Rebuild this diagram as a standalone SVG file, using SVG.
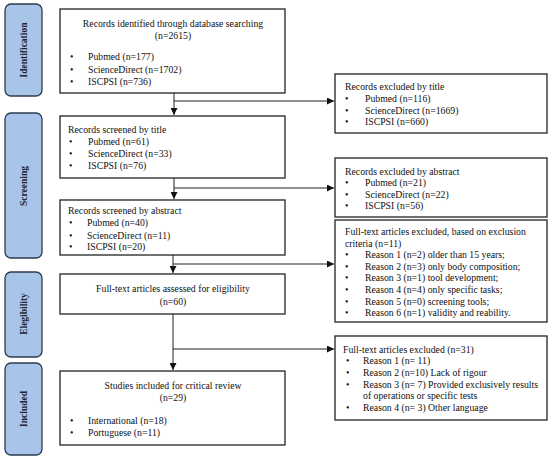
<svg xmlns="http://www.w3.org/2000/svg" width="550" height="461" viewBox="0 0 550 461">
<defs>
<marker id="ah" viewBox="0 0 10 10" refX="10" refY="5" markerWidth="7" markerHeight="7" markerUnits="userSpaceOnUse" orient="auto">
<path d="M0,0 L10,5 L0,10 z" fill="#111"/>
</marker>
<style>
.phase{fill:#a8c4e8;stroke:#2c3a4e;stroke-width:1.3}
.ptxt{font-family:"Liberation Serif",serif;font-size:9.5px;font-weight:bold;fill:#1c2533;text-anchor:middle}
.box{fill:#fff;stroke:#222;stroke-width:1.3}
.t{font-family:"Liberation Serif",serif;font-size:9.75px;fill:#111}
.c{text-anchor:middle}
.conn{fill:none;stroke:#222;stroke-width:1}
</style>
</defs>
<rect width="550" height="461" fill="#fff"/>
<g id="phase-identification"><rect class="phase" x="5" y="4" width="37" height="92" rx="6"/><text class="ptxt" transform="translate(27,50) rotate(-90)">Identification</text></g>
<g id="phase-screening"><rect class="phase" x="5" y="113" width="37" height="145" rx="6"/><text class="ptxt" transform="translate(27,186) rotate(-90)">Screening</text></g>
<g id="phase-eligibility"><rect class="phase" x="5" y="272" width="37" height="85" rx="6"/><text class="ptxt" transform="translate(27,314) rotate(-90)">Elegibility</text></g>
<g id="phase-included"><rect class="phase" x="5" y="363" width="37" height="92" rx="6"/><text class="ptxt" transform="translate(27,409) rotate(-90)">Included</text></g>

<g id="connectors">
<line class="conn" x1="174" y1="93" x2="174" y2="115" marker-end="url(#ah)"/>
<line class="conn" x1="174" y1="101" x2="334" y2="101" marker-end="url(#ah)"/>
<line class="conn" x1="174" y1="178" x2="174" y2="199" marker-end="url(#ah)"/>
<line class="conn" x1="174" y1="188" x2="334" y2="188" marker-end="url(#ah)"/>
<line class="conn" x1="173" y1="255" x2="173" y2="273" marker-end="url(#ah)"/>
<line class="conn" x1="173" y1="264" x2="334" y2="264" marker-end="url(#ah)"/>
<line class="conn" x1="173" y1="314" x2="173" y2="370" marker-end="url(#ah)"/>
<line class="conn" x1="173" y1="349" x2="334" y2="349" marker-end="url(#ah)"/>
</g>

<g id="n-identified"><rect class="box" x="60" y="9" width="225" height="84"/>
<text class="t c" x="173" y="27">Records identified through database searching</text>
<text class="t c" x="173" y="39">(n=2615)</text>
<text class="t" x="70" y="60">•</text><text class="t" x="88" y="60">Pubmed (n=177)</text>
<text class="t" x="70" y="73">•</text><text class="t" x="88" y="73">ScienceDirect (n=1702)</text>
<text class="t" x="70" y="85">•</text><text class="t" x="88" y="85">ISCPSI (n=736)</text>
</g>

<g id="n-excl-title"><rect class="box" x="335" y="74" width="212" height="59"/>
<text class="t" x="345" y="90">Records excluded by title</text>
<text class="t" x="345" y="102">•</text><text class="t" x="365" y="102">Pubmed (n=116)</text>
<text class="t" x="345" y="114">•</text><text class="t" x="365" y="114">ScienceDirect (n=1669)</text>
<text class="t" x="345" y="125">•</text><text class="t" x="365" y="125">ISCPSI (n=660)</text>
</g>

<g id="n-screened-title"><rect class="box" x="60" y="116" width="225" height="62"/>
<text class="t" x="68" y="133">Records screened by title</text>
<text class="t" x="69" y="145">•</text><text class="t" x="88" y="145">Pubmed (n=61)</text>
<text class="t" x="69" y="157">•</text><text class="t" x="88" y="157">ScienceDirect (n=33)</text>
<text class="t" x="69" y="169">•</text><text class="t" x="88" y="169">ISCPSI (n=76)</text>
</g>

<g id="n-excl-abstract"><rect class="box" x="335" y="158" width="212" height="59"/>
<text class="t" x="345" y="175">Records excluded by abstract</text>
<text class="t" x="345" y="186">•</text><text class="t" x="365" y="186">Pubmed (n=21)</text>
<text class="t" x="345" y="198">•</text><text class="t" x="365" y="198">ScienceDirect (n=22)</text>
<text class="t" x="345" y="209">•</text><text class="t" x="365" y="209">ISCPSI (n=56)</text>
</g>

<g id="n-screened-abstract"><rect class="box" x="60" y="200" width="225" height="55"/>
<text class="t" x="68" y="214">Records screened by abstract</text>
<text class="t" x="69" y="226">•</text><text class="t" x="87" y="226">Pubmed (n=40)</text>
<text class="t" x="69" y="239">•</text><text class="t" x="87" y="239">ScienceDirect (n=11)</text>
<text class="t" x="69" y="250">•</text><text class="t" x="87" y="250">ISCPSI (n=20)</text>
</g>

<g id="n-excl-criteria"><rect class="box" x="335" y="220" width="212" height="102"/>
<text class="t" x="345" y="235">Full-text articles excluded, based on exclusion</text>
<text class="t" x="345" y="247">criteria (n=11)</text>
<text class="t" x="345" y="258">•</text><text class="t" x="365" y="258">Reason 1 (n=2) older than 15 years;</text>
<text class="t" x="345" y="270">•</text><text class="t" x="365" y="270">Reason 2 (n=3) only body composition;</text>
<text class="t" x="345" y="281">•</text><text class="t" x="365" y="281">Reason 3 (n=1) tool development;</text>
<text class="t" x="345" y="293">•</text><text class="t" x="365" y="293">Reason 4 (n=4) only specific tasks;</text>
<text class="t" x="345" y="305">•</text><text class="t" x="365" y="305">Reason 5 (n=0) screening tools;</text>
<text class="t" x="345" y="316">•</text><text class="t" x="365" y="316">Reason 6 (n=1) validity and reability.</text>
</g>

<g id="n-assessed"><rect class="box" x="60" y="274" width="225" height="40"/>
<text class="t c" x="173" y="292">Full-text articles assessed for eligibility</text>
<text class="t c" x="173" y="305">(n=60)</text>
</g>

<g id="n-excl-fulltext"><rect class="box" x="335" y="336" width="212" height="84"/>
<text class="t" x="343" y="353">Full-text articles excluded (n=31)</text>
<text class="t" x="346" y="364">•</text><text class="t" x="363" y="364">Reason 1 (n= 11)</text>
<text class="t" x="346" y="376">•</text><text class="t" x="363" y="376">Reason 2 (n=10) Lack of rigour</text>
<text class="t" x="346" y="388">•</text><text class="t" x="363" y="388">Reason 3 (n= 7) Provided exclusively results</text>
<text class="t" x="363" y="399">of operations or specific tests</text>
<text class="t" x="346" y="411">•</text><text class="t" x="363" y="411">Reason 4 (n= 3) Other language</text>
</g>

<g id="n-included"><rect class="box" x="60" y="371" width="225" height="74"/>
<text class="t c" x="173" y="389">Studies included for critical review</text>
<text class="t c" x="173" y="401">(n=29)</text>
<text class="t" x="70" y="424">•</text><text class="t" x="88" y="424">International (n=18)</text>
<text class="t" x="70" y="436">•</text><text class="t" x="88" y="436">Portuguese (n=11)</text>
</g>
</svg>
